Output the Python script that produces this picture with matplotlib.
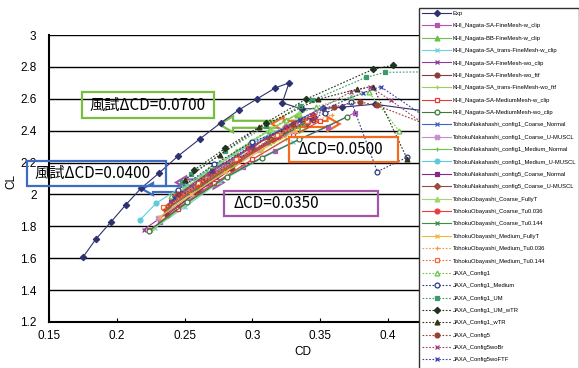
import numpy as np
import matplotlib.pyplot as plt
import matplotlib.patches as mpatches
from matplotlib.transforms import IdentityTransform

plt.rcParams['font.family'] = ['Liberation Sans', 'DejaVu Sans']

#----データ (CD, CL)--------------------------
exp_cd = [0.175, 0.1846, 0.1955, 0.2065, 0.218, 0.231, 0.245, 0.2615, 0.2768, 0.290,
          0.3035, 0.3168, 0.327, 0.322, 0.3362, 0.352, 0.3657, 0.390, 0.430]
exp_cl = [1.606, 1.72, 1.826, 1.934, 2.04, 2.133, 2.24, 2.35, 2.45, 2.53,
          2.60, 2.668, 2.70, 2.575, 2.536, 2.54, 2.547, 2.566, 2.52]

khi1_cd = [0.232, 0.262, 0.293, 0.3166, 0.3554, 0.3755]
khi1_cl = [1.83, 2.02, 2.17, 2.275, 2.425, 2.513]
khi2_cd = [0.2404, 0.262, 0.287, 0.312, 0.3325]
khi2_cl = [1.98, 2.11, 2.26, 2.40, 2.50]
khi3_cd = [0.228, 0.250, 0.276, 0.3068, 0.330]
khi3_cl = [1.79, 1.92, 2.08, 2.227, 2.33]
khi4_cd = [0.220, 0.245, 0.270, 0.3097, 0.330, 0.347]
khi4_cl = [1.78, 1.93, 2.08, 2.356, 2.41, 2.48]
khi5_cd = [0.2367, 0.260, 0.285, 0.313, 0.323, 0.345]
khi5_cl = [1.87, 2.02, 2.16, 2.35, 2.38, 2.47]
khi6_cd = [0.226, 0.245, 0.270, 0.300, 0.325]
khi6_cl = [1.78, 1.90, 2.05, 2.22, 2.35]
khi7_cd = [0.224, 0.245, 0.272, 0.300, 0.330, 0.350]
khi7_cl = [1.775, 1.91, 2.07, 2.22, 2.37, 2.46]
khi8_cd = [0.224, 0.252, 0.281, 0.307, 0.3345, 0.370]
khi8_cl = [1.773, 1.95, 2.11, 2.23, 2.345, 2.488]

nak1_cd = [0.245, 0.2724, 0.300, 0.325, 0.351]
nak1_cl = [1.99, 2.14, 2.30, 2.43, 2.54]
nak2_cd = [0.230, 0.255, 0.280, 0.305, 0.330]
nak2_cl = [1.85, 2.00, 2.15, 2.28, 2.40]
nak3_cd = [0.235, 0.260, 0.287, 0.315, 0.340]
nak3_cl = [1.90, 2.05, 2.20, 2.35, 2.46]
nak4_cd = [0.2171, 0.2289, 0.250, 0.275, 0.300, 0.325]
nak4_cl = [1.84, 1.944, 2.06, 2.19, 2.32, 2.43]
nak5_cd = [0.240, 0.265, 0.290, 0.318, 0.342]
nak5_cl = [1.95, 2.09, 2.23, 2.36, 2.47]
nak6_cd = [0.238, 0.262, 0.288, 0.315, 0.340]
nak6_cl = [1.93, 2.07, 2.21, 2.34, 2.45]

oba1_cd = [0.242, 0.264, 0.288, 0.314, 0.334]
oba1_cl = [1.99, 2.12, 2.27, 2.41, 2.51]
oba2_cd = [0.2429, 0.2466, 0.270, 0.297, 0.325, 0.345]
oba2_cl = [1.99, 2.00, 2.14, 2.29, 2.42, 2.50]
oba3_cd = [0.236, 0.260, 0.285, 0.312, 0.337]
oba3_cl = [1.90, 2.04, 2.18, 2.32, 2.44]
oba4_cd = [0.232, 0.255, 0.280, 0.307, 0.332]
oba4_cl = [1.86, 2.00, 2.14, 2.28, 2.40]
oba5_cd = [0.235, 0.260, 0.290, 0.320, 0.359]
oba5_cl = [1.91, 2.06, 2.23, 2.38, 2.50]
oba6_cd = [0.2343, 0.260, 0.288, 0.318, 0.340]
oba6_cl = [1.92, 2.07, 2.22, 2.37, 2.46]

jx1_cd = [0.240, 0.268, 0.298, 0.325, 0.347, 0.373, 0.386, 0.408]
jx1_cl = [1.99, 2.16, 2.33, 2.47, 2.55, 2.613, 2.64, 2.40]
jx2_cd = [0.245, 0.272, 0.300, 0.3534, 0.373, 0.392, 0.414]
jx2_cl = [2.03, 2.19, 2.33, 2.51, 2.58, 2.143, 2.233]
jx3_cd = [0.2478, 0.2547, 0.280, 0.310, 0.335, 0.344, 0.384, 0.398, 0.440]
jx3_cl = [2.08, 2.127, 2.27, 2.43, 2.555, 2.59, 2.735, 2.766, 2.77]
jx4_cd = [0.257, 0.280, 0.310, 0.3394, 0.389, 0.4033]
jx4_cl = [2.153, 2.29, 2.45, 2.597, 2.785, 2.81]
jx5_cd = [0.250, 0.276, 0.305, 0.3485, 0.377, 0.389, 0.414]
jx5_cl = [2.09, 2.25, 2.42, 2.597, 2.66, 2.676, 2.225]
jx6_cd = [0.245, 0.270, 0.300, 0.330, 0.360, 0.379, 0.3915, 0.425]
jx6_cl = [2.00, 2.15, 2.30, 2.44, 2.55, 2.58, 2.56, 2.45]
jx7_cd = [0.240, 0.268, 0.300, 0.335, 0.373, 0.3866, 0.402, 0.430]
jx7_cl = [1.96, 2.13, 2.30, 2.47, 2.645, 2.676, 2.59, 2.42]
jx8_cd = [0.242, 0.270, 0.300, 0.335, 0.3816, 0.3945, 0.425]
jx8_cl = [1.98, 2.15, 2.31, 2.47, 2.638, 2.676, 2.50]

yok_cd = [0.235, 0.260, 0.290, 0.320]
yok_cl = [1.90, 2.05, 2.21, 2.36]

labels = ['Exp',
          'KHI_Nagata-SA-FineMesh-w_clip', 'KHI_Nagata-BB-FineMesh-w_clip',
          'KHI_Nagata-SA_trans-FineMesh-w_clip', 'KHI_Nagata-SA-FineMesh-wo_clip',
          'KHI_Nagata-SA-FineMesh-wo_ftf', 'KHI_Nagata-SA_trans-FineMesh-wo_ftf',
          'KHI_Nagata-SA-MediumMesh-w_clip', 'KHI_Nagata-SA-MediumMesh-wo_clip',
          'TohokuNakahashi_config1_Coarse_Normal', 'TohokuNakahashi_config1_Coarse_U-MUSCL',
          'TohokuNakahashi_config1_Medium_Normal', 'TohokuNakahashi_config1_Medium_U-MUSCL',
          'TohokuNakahashi_config5_Coarse_Normal', 'TohokuNakahashi_config5_Coarse_U-MUSCL',
          'TohokuObayashi_Coarse_FullyT', 'TohokuObayashi_Coarse_Tu0.036',
          'TohokuObayashi_Coarse_Tu0.144', 'TohokuObayashi_Medium_FullyT',
          'TohokuObayashi_Medium_Tu0.036', 'TohokuObayashi_Medium_Tu0.144',
          'JAXA_Config1', 'JAXA_Config1_Medium', 'JAXA_Config1_UM', 'JAXA_Config1_UM_wTR',
          'JAXA_Config1_wTR', 'JAXA_Config5', 'JAXA_Config5woBr', 'JAXA_Config5woFTF',
          'YokohamaNationalUniversity_Config1_Turb3rd']
cds = [exp_cd, khi1_cd, khi2_cd, khi3_cd, khi4_cd, khi5_cd, khi6_cd, khi7_cd, khi8_cd,
       nak1_cd, nak2_cd, nak3_cd, nak4_cd, nak5_cd, nak6_cd,
       oba1_cd, oba2_cd, oba3_cd, oba4_cd, oba5_cd, oba6_cd,
       jx1_cd, jx2_cd, jx3_cd, jx4_cd, jx5_cd, jx6_cd, jx7_cd, jx8_cd, yok_cd]
cls = [exp_cl, khi1_cl, khi2_cl, khi3_cl, khi4_cl, khi5_cl, khi6_cl, khi7_cl, khi8_cl,
       nak1_cl, nak2_cl, nak3_cl, nak4_cl, nak5_cl, nak6_cl,
       oba1_cl, oba2_cl, oba3_cl, oba4_cl, oba5_cl, oba6_cl,
       jx1_cl, jx2_cl, jx3_cl, jx4_cl, jx5_cl, jx6_cl, jx7_cl, jx8_cl, yok_cl]

# 線の色・線種・マーカー・塗り
dot = (0, (1.5, 1.5))
styles = [('#2e3170', '-', 'D', True),
          ('#b255b5', '-', 's', True), ('#6cc24a', '-', '^', True),
          ('#6fd0dc', '-', 'x', False), ('#8e3a96', '-', 'x', False),
          ('#8c3a3a', '-', 'o', True), ('#9bd05a', '-', '+', False),
          ('#e83a3a', '-', 's', False), ('#3c7a3c', '-', 'o', False),
          ('#3d66c2', '-', 'x', False), ('#c38fd0', '-', 'X', True),
          ('#6cc24a', '-', '+', False), ('#5ecbdc', '-', 'o', True),
          ('#86288c', '-', 's', True), ('#9c4a3e', '-', 'D', True),
          ('#9fd86a', '-', '^', True), ('#ee3b3b', '-', 'o', True),
          ('#3f8c45', '-', 'x', False), ('#f3b53a', '-', 'x', False),
          ('#f39a45', dot, '+', False), ('#f26a35', dot, 's', False),
          ('#6cc24a', dot, '^', False), ('#2b3a80', dot, 'o', False),
          ('#3c9a6c', dot, 's', True), ('#1e3320', dot, 'D', True),
          ('#33331a', dot, '^', True), ('#99402e', dot, 'o', True),
          ('#9c3a78', dot, 'x', False), ('#3340a8', dot, 'x', False),
          ('#e8382f', '-', '+', False)]

W, H = 579, 368
fig = plt.figure(figsize=(W / 100, H / 100), dpi=100)
ax = fig.add_axes([49 / W, 1 - 322 / H, 370 / W, 287 / H])

handles = []
for lab, x, y, (c, ls, mk, filled) in zip(labels, cds, cls, styles):
    ms = 3.2 if mk == 'D' else 3.5
    h, = ax.plot(x, y, color=c, ls=ls, lw=0.8, marker=mk, ms=ms,
                 mfc=c if filled else 'white', mec=c, mew=0.9, label=lab, zorder=3)
    handles.append(h)

ax.set_xlim(0.15, 0.4228)
ax.set_ylim(1.2, 3.0)
ax.set_xticks(np.arange(0.15, 0.401, 0.05))
ax.set_xticklabels(['0.15', '0.2', '0.25', '0.3', '0.35', '0.4'])
ax.set_yticks(np.arange(1.2, 3.01, 0.2))
ax.set_yticklabels(['1.2', '1.4', '1.6', '1.8', '2', '2.2', '2.4', '2.6', '2.8', '3'])
ax.tick_params(axis='x', direction='in', length=3, width=0.8, pad=6, labelsize=8.5)
ax.tick_params(axis='y', length=0, pad=9, labelsize=8.5)
ax.grid(axis='y', color='black', lw=1.0)
ax.set_axisbelow(True)
for s in ['top', 'right']:
    ax.spines[s].set_visible(False)
for s in ['left', 'bottom']:
    ax.spines[s].set_linewidth(1.5)

ax.set_xlabel('CD', fontsize=8.5)
ax.xaxis.set_label_coords(0.686, -0.085)
ax.set_ylabel('CL', fontsize=8.5)
ax.yaxis.set_label_coords(-0.085, 0.49)

leg = fig.legend(handles=handles, loc='upper left', bbox_to_anchor=(419 / W, 1 - 8 / H),
                 bbox_transform=fig.transFigure, borderaxespad=0, borderpad=0.5,
                 fontsize=4.2, labelspacing=1.25, handlelength=5.0, handletextpad=0.3,
                 fancybox=False, framealpha=1, edgecolor='#333333')
leg.get_frame().set_linewidth(1.0)

# 白抜き両矢印 (ΔCD)
def darrow(x0, x1, y, color, hl, hw, tw):
    p0 = ax.transData.transform((x0, y))
    p1 = ax.transData.transform((x1, y))
    a, b, yy = p0[0], p1[0], p0[1]
    pts = [(a, yy), (a + hl, yy + hw), (a + hl, yy + tw), (b - hl, yy + tw), (b - hl, yy + hw),
           (b, yy), (b - hl, yy - hw), (b - hl, yy - tw), (a + hl, yy - tw), (a + hl, yy - hw)]
    ax.add_patch(mpatches.Polygon(pts, closed=True, transform=IdentityTransform(),
                                  facecolor='white', edgecolor=color, lw=1.6, zorder=2))

darrow(0.2754, 0.3454, 2.44, '#77be43', 14, 8, 3.5)
darrow(0.3142, 0.3642, 2.442, '#f26b21', 12, 7, 3)
darrow(0.2186, 0.2586, 2.034, '#3d6cc0', 11, 6, 3)
darrow(0.2437, 0.2787, 2.075, '#a455a8', 10, 6, 3)

# 注記ボックス
boxes = [((82, 92, 214, 118), 89, '風試ΔCD=0.0700', '#77be43'),
         ((27, 161, 166, 186), 34, '風試ΔCD=0.0400', '#3d6cc0'),
         ((289, 137, 398, 162), 297, 'ΔCD=0.0500', '#f26b21'),
         ((224, 191, 378, 216), 233, 'ΔCD=0.0350', '#a455a8')]
for (x0, y0, x1, y1), tx, txt, c in boxes:
    fig.patches.append(mpatches.Rectangle((x0 / W, 1 - y1 / H), (x1 - x0) / W, (y1 - y0) / H,
                                          transform=fig.transFigure, fill=False,
                                          edgecolor=c, lw=1.6, zorder=5))
    fig.text(tx / W, 1 - (y0 + y1) / 2 / H, txt, ha='left', va='center', fontsize=11,
             family=['Noto Sans CJK JP', 'DejaVu Sans'], zorder=6)

fig.savefig('out.png', dpi=100)
